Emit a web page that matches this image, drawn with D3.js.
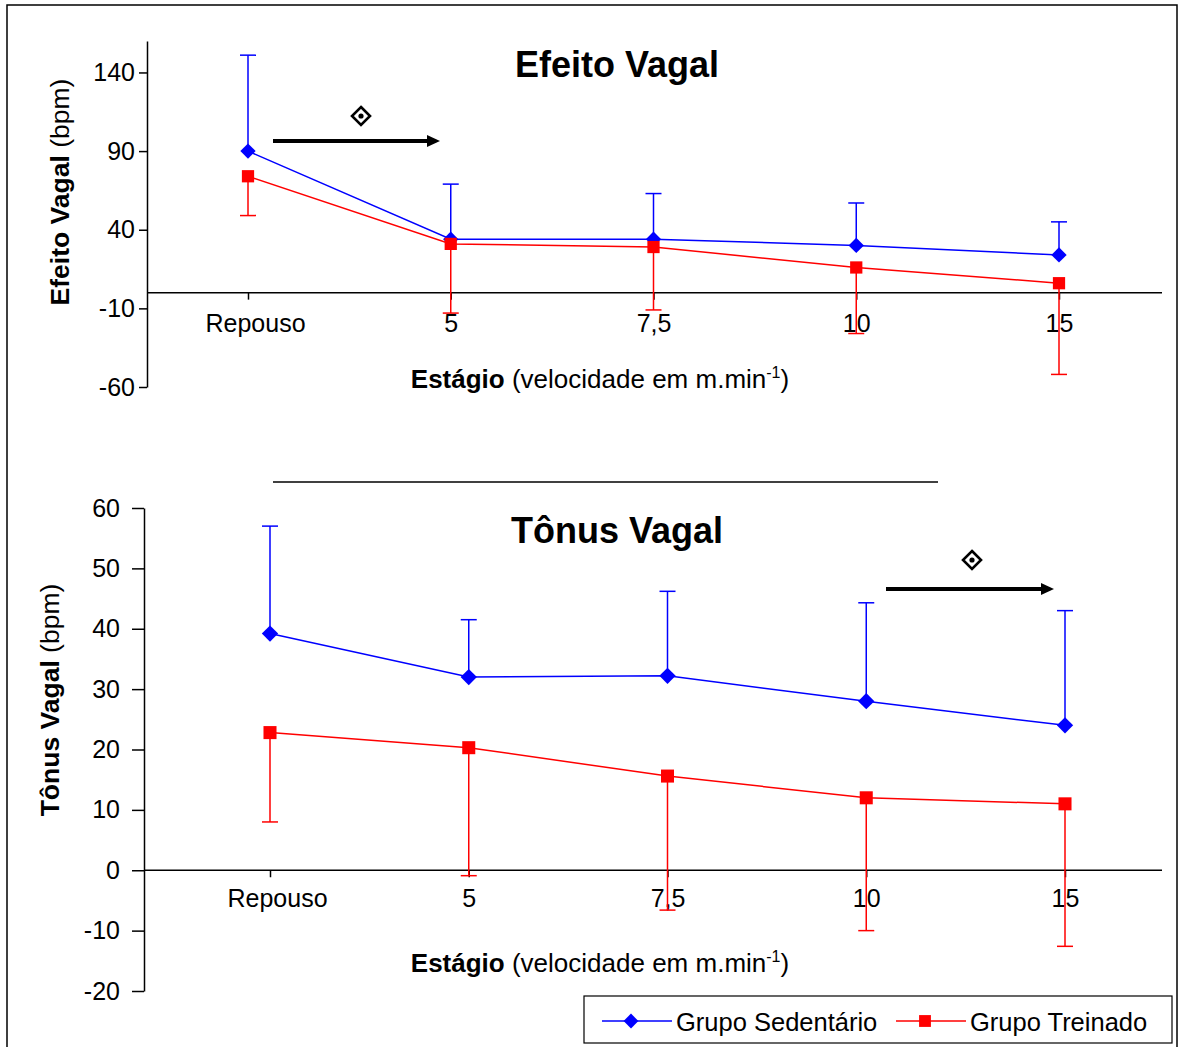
<!DOCTYPE html>
<html>
<head>
<meta charset="utf-8">
<script src="https://cdn.jsdelivr.net/npm/d3@7"></script>
<style>
  body { margin: 0; background: #fff; }
  svg { font-family: "Liberation Sans", Arial, sans-serif; }
</style>
</head>
<body>
<div id="chart"></div>
<script>
// Stages on the x axis
var stages = ["Repouso", "5", "7,5", "10", "15"];

// Efeito Vagal (top panel), mean and SD
var efeitoSed = [90, 34, 34, 30, 24];
var efeitoSedSd = [61, 35, 29, 27, 21];
var efeitoTre = [74, 31, 29, 16, 6];
var efeitoTreSd = [25, 44, 40, 42, 58];
var efeitoTicks = [-60, -10, 40, 90, 140];

// Tonus Vagal (bottom panel), mean and SD
var tonusSed = [39.2, 32, 32.2, 28, 24];
var tonusSedSd = [17.8, 9.5, 14, 16.3, 19];
var tonusTre = [22.8, 20.3, 15.6, 12, 11];
var tonusTreSd = [14.8, 21.2, 22.2, 22, 23.6];
var tonusTicks = [-20, -10, 0, 10, 20, 30, 40, 50, 60];

var seriesNames = ["Grupo Sedentário", "Grupo Treinado"];
var blue = "#0000ff", red = "#ff0000";

var W = 1182, H = 1047;
var svg = d3.select("#chart").append("svg").attr("width", W).attr("height", H);

// outer frame
svg.append("rect").attr("x", 7).attr("y", 5).attr("width", 1170).attr("height", 1060)
  .attr("fill", "none").attr("stroke", "#000").attr("stroke-width", 1.5);

// separator line between panels
svg.append("line").attr("x1", 273).attr("x2", 938).attr("y1", 482).attr("y2", 482)
  .attr("stroke", "#000").attr("stroke-width", 1.5);

function panel(cfg){
  var g = svg.append("g");
  var y = d3.scaleLinear().domain(cfg.domain).range([cfg.bottom, cfg.top]);
  var x = d3.scalePoint().domain(stages).range(cfg.xRange);

  // y axis
  var ya = g.append("g").attr("transform", "translate(" + cfg.axisX + ",0)")
    .call(d3.axisLeft(y).tickValues(cfg.ticks).tickFormat(function(d){ return String(d); })
      .tickSize(cfg.tickLen).tickSizeOuter(0).tickPadding(cfg.tickPad));
  ya.select(".domain").attr("stroke-width", 1.5);
  ya.selectAll(".tick line").attr("stroke-width", 1.5);
  ya.selectAll("text").attr("font-size", 25).attr("fill", "#000")
    .attr("font-family", "Liberation Sans, Arial, sans-serif");

  // x axis at zero
  var xa = g.append("g").attr("transform", "translate(0," + y(0) + ")")
    .call(d3.axisBottom(x).tickSize(7).tickPadding(cfg.xPad));
  xa.select(".domain").remove();
  xa.selectAll(".tick line").attr("stroke-width", 1.5);
  xa.selectAll("text").attr("font-size", 25).attr("fill", "#000")
    .attr("font-family", "Liberation Sans, Arial, sans-serif")
    .attr("dx", function(d){ return d === "Repouso" ? 7 : 0; });
  g.append("line").attr("x1", cfg.axisX).attr("x2", 1162).attr("y1", y(0)).attr("y2", y(0))
    .attr("stroke", "#000").attr("stroke-width", 1.5);

  // title
  g.append("text").attr("x", 617).attr("y", cfg.titleY).attr("text-anchor", "middle")
    .attr("font-size", 36).attr("font-weight", "bold").text(cfg.title);

  // y label
  var yl = g.append("text").attr("transform", "translate(" + cfg.yLabelX + "," + cfg.yLabelY + ") rotate(-90)")
    .attr("text-anchor", "middle").attr("font-size", 26.5);
  yl.append("tspan").attr("font-weight", "bold").text(cfg.title);
  yl.append("tspan").text(" (bpm)");

  // x label
  var xl = g.append("text").attr("x", 600).attr("y", cfg.xLabelY).attr("text-anchor", "middle").attr("font-size", 26);
  xl.append("tspan").attr("font-weight", "bold").text("Estágio");
  xl.append("tspan").text(" (velocidade em m.min");
  xl.append("tspan").attr("font-size", 16).attr("dy", -10).text("-1");
  xl.append("tspan").attr("dy", 10).text(")");

  var series = [
    {vals: cfg.sed, sd: cfg.sedSd, color: blue, dir: -1, shape: d3.symbolDiamond2, size: cfg.mSize},
    {vals: cfg.tre, sd: cfg.treSd, color: red, dir: 1, shape: d3.symbolSquare, size: cfg.mSize}
  ];
  var line = d3.line().x(function(d, i){ return x(stages[i]); }).y(function(d){ return y(d); });

  series.forEach(function(s){
    // error bars
    var eb = g.append("g").attr("stroke", s.color).attr("stroke-width", 1.5);
    s.vals.forEach(function(v, i){
      var end = s.dir < 0 ? v + s.sd[i] : v - s.sd[i];
      var cx = x(stages[i]);
      eb.append("line").attr("x1", cx).attr("x2", cx).attr("y1", y(v)).attr("y2", y(end));
      eb.append("line").attr("x1", cx - 8).attr("x2", cx + 8).attr("y1", y(end)).attr("y2", y(end));
    });
    g.append("path").datum(s.vals).attr("d", line).attr("fill", "none")
      .attr("stroke", s.color).attr("stroke-width", 1.5);
    g.selectAll(null).data(s.vals).enter().append("path")
      .attr("transform", function(d, i){ return "translate(" + x(stages[i]) + "," + y(d) + ")"; })
      .attr("d", d3.symbol().type(s.shape).size(s.size))
      .attr("fill", s.color);
  });

  // significance marker and arrow
  var a = cfg.arrow;
  g.append("line").attr("x1", a.x1).attr("x2", a.x2 - 10).attr("y1", a.y).attr("y2", a.y)
    .attr("stroke", "#000").attr("stroke-width", 4);
  g.append("path").attr("d", "M" + (a.x2 - 13) + "," + (a.y - 6) + "L" + a.x2 + "," + a.y + "L" + (a.x2 - 13) + "," + (a.y + 6) + "Z")
    .attr("fill", "#000");
  g.append("path").attr("transform", "translate(" + a.sx + "," + a.sy + ")")
    .attr("d", "M0,-9L9,0L0,9L-9,0Z").attr("fill", "none").attr("stroke", "#000").attr("stroke-width", 2.6);
  g.append("circle").attr("cx", a.sx).attr("cy", a.sy).attr("r", 2.6).attr("fill", "#000");
}

panel({
  title: "Efeito Vagal", domain: [-60, 160], top: 41, bottom: 387, ticks: efeitoTicks,
  axisX: 147, tickLen: 8, tickPad: 4, xRange: [248, 1059], xPad: 15, mSize: 150,
  titleY: 77, yLabelX: 69, yLabelY: 192, xLabelY: 388,
  sed: efeitoSed, sedSd: efeitoSedSd, tre: efeitoTre, treSd: efeitoTreSd,
  arrow: {x1: 273, x2: 440, y: 141, sx: 361, sy: 116}
});

panel({
  title: "Tônus Vagal", domain: [-20, 60], top: 508, bottom: 991, ticks: tonusTicks,
  axisX: 144, tickLen: 12, tickPad: 12, xRange: [270, 1065], xPad: 12, mSize: 170,
  titleY: 543, yLabelX: 59, yLabelY: 700, xLabelY: 972,
  sed: tonusSed, sedSd: tonusSedSd, tre: tonusTre, treSd: tonusTreSd,
  arrow: {x1: 886, x2: 1054, y: 589, sx: 972, sy: 560}
});

// legend
var lg = svg.append("g");
lg.append("rect").attr("x", 584).attr("y", 996).attr("width", 588).attr("height", 47)
  .attr("fill", "#fff").attr("stroke", "#000").attr("stroke-width", 1.2);
var legendItems = [
  {name: seriesNames[0], color: blue, shape: d3.symbolDiamond2, x: 602},
  {name: seriesNames[1], color: red, shape: d3.symbolSquare, x: 896}
];
legendItems.forEach(function(it){
  lg.append("line").attr("x1", it.x).attr("x2", it.x + 70).attr("y1", 1021).attr("y2", 1021)
    .attr("stroke", it.color).attr("stroke-width", 1.5);
  lg.append("path").attr("transform", "translate(" + (it.x + 29) + ",1021)")
    .attr("d", d3.symbol().type(it.shape).size(140)).attr("fill", it.color);
  lg.append("text").attr("x", it.x + 74).attr("y", 1031).attr("font-size", 25.5).text(it.name);
});
</script>
</body>
</html>
